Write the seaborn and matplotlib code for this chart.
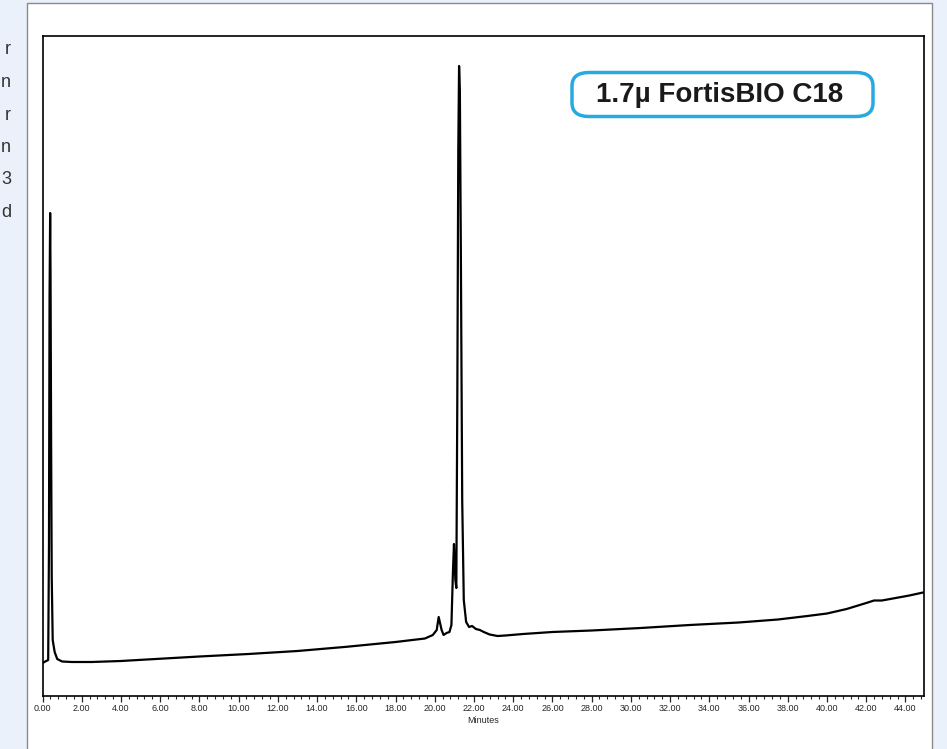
import pandas as pd
import seaborn as sns
import matplotlib.pyplot as plt
from matplotlib.patches import Rectangle, FancyBboxPatch
from matplotlib.ticker import MultipleLocator, FormatStrFormatter

# Chromatogram trace (time in minutes, signal in arbitrary units)
time_min = [0.00, 0.19, 0.29, 0.33, 0.36, 0.39, 0.41, 0.44, 0.47, 0.52, 0.62, 0.75,
            1.0, 1.5, 2.5, 4.0, 5.5, 8.0, 10.5, 13.0, 15.5, 18.0, 19.5, 19.9, 20.1,
            20.2, 20.35, 20.45, 20.6, 20.75, 20.85, 20.93, 20.98, 21.05, 21.1, 21.15,
            21.2, 21.24, 21.28, 21.33, 21.4, 21.48, 21.6, 21.75, 21.9, 22.1, 22.3,
            22.5, 22.8, 23.2, 23.6, 24.5, 26.0, 28.0, 30.5, 33.0, 35.5, 37.5, 39.0,
            40.0, 41.0, 42.0, 42.4, 42.8, 43.5, 44.2, 44.9]
signal = [33, 35, 36, 150, 400, 483, 420, 250, 120, 56, 44, 37,
          34.5, 34, 34, 35, 36.7, 39.5, 42, 45, 49.2, 54, 57.5, 61, 66,
          79, 66, 61, 63, 64, 71, 126, 152, 116, 108, 296,
          546, 630, 606, 446, 196, 96, 74, 69, 70, 67, 66,
          64, 61.5, 60, 60.5, 62, 64, 65.5, 68, 71, 73.5, 76.5, 80,
          82.5, 87, 93, 95.5, 95.5, 98, 100.5, 103.5]

label_text = "1.7\u00b5 FortisBIO C18"
side_letters = ["r", "n", "r", "n", "3", "d"]

df = pd.DataFrame({"Minutes": time_min, "Signal": signal})

sns.set_style("white")
plt.rcParams["font.family"] = ["Liberation Sans", "DejaVu Sans"]

W, H = 947, 749
fig = plt.figure(figsize=(W / 100, H / 100), dpi=100)
fig.patch.set_facecolor("#eaf1fa")

# white panel behind the chart
fig.patches.append(Rectangle((27 / W, -0.01), (932 - 27) / W, 1 - 2.7 / H + 0.01,
                             transform=fig.transFigure, facecolor="white",
                             edgecolor="#8a8a8a", linewidth=1.0, zorder=-5))

# cut-off text from the neighbouring column
for i, ch in enumerate(side_letters):
    fig.text(11 / W, 1 - (50 + i * 32.5) / H, ch, ha="right", va="center",
             fontsize=13, color="#333333")

ax = fig.add_axes([42.5 / W, 1 - 696 / H, (923.5 - 42.5) / W, (696 - 36) / H])
ax.set_facecolor("white")
sns.lineplot(data=df, x="Minutes", y="Signal", ax=ax, color="black",
             linewidth=1.6, estimator=None, sort=False)

ax.set_xlim(0, 44.92)
ax.set_ylim(0, 660)
ax.set_yticks([])
ax.set_ylabel("")
ax.set_xlabel("Minutes", fontsize=6.5, labelpad=2)
ax.xaxis.set_major_locator(MultipleLocator(2))
ax.xaxis.set_minor_locator(MultipleLocator(0.4))
ax.xaxis.set_major_formatter(FormatStrFormatter("%.2f"))
ax.tick_params(axis="x", which="major", direction="out", length=4, width=0.9,
               labelsize=6.5, pad=2, bottom=True)
ax.tick_params(axis="x", which="minor", direction="out", length=2.2, width=0.8, bottom=True)
for sp in ax.spines.values():
    sp.set_visible(True)
    sp.set_color("black")
    sp.set_linewidth(1.2)

# column label box
fig.patches.append(FancyBboxPatch((572 / W, 1 - 116.5 / H), (873 - 572) / W, 44 / H,
                                  boxstyle="round,pad=0,rounding_size=0.018",
                                  transform=fig.transFigure, facecolor="white",
                                  edgecolor="#27aae1", linewidth=2.5, zorder=5))
fig.text(720 / W, 1 - 95 / H, label_text, ha="center", va="center", fontsize=20,
         fontweight="bold", color="#1a1a1a", zorder=6)

fig.savefig("out.png", dpi=100, facecolor=fig.get_facecolor())
